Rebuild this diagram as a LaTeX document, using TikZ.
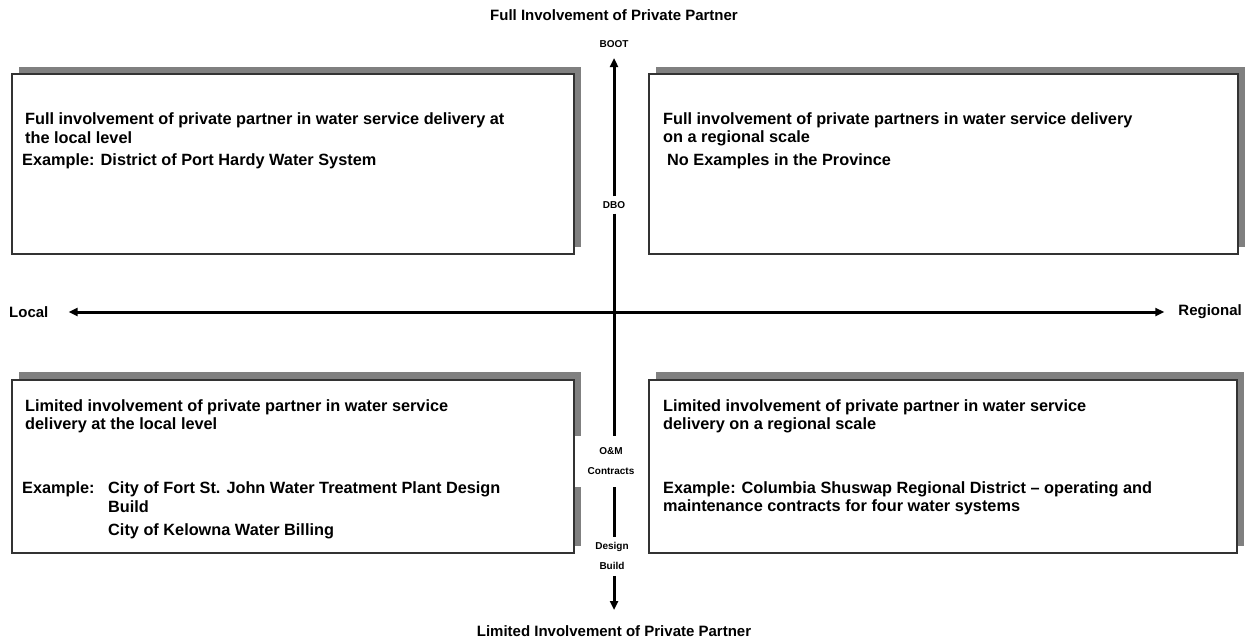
\documentclass[tikz,border=0pt]{standalone}
\usepackage{fontspec}
\setmainfont{Liberation Sans}
\usetikzlibrary{arrows.meta}
\begin{document}
\begin{tikzpicture}[x=1pt,y=-1pt,
  shadowbox/.style={fill=black!50,draw=none},
  panel/.style={draw=black!80,line width=1.3pt,fill=white},
  txt/.style={anchor=west,inner sep=0pt,font=\bfseries\fontsize{16.3}{18}\selectfont},
  small/.style={inner sep=0pt,font=\bfseries\fontsize{10}{20}\selectfont},
  ttl/.style={inner sep=0pt,font=\bfseries\fontsize{15}{18}\selectfont},
  axis/.style={line width=3pt,black},
  tip/.style={-{Triangle[width=8pt,length=9pt]}}
]
\useasboundingbox (0,0) rectangle (1247,641);
% shadows
\fill[shadowbox] (19,67) rectangle (581,247);
\fill[shadowbox] (656,67) rectangle (1245,247);
\fill[shadowbox] (19,372) rectangle (581,546);
\fill[shadowbox] (656,372) rectangle (1244,546);
% panels
\draw[panel] (12,74) rectangle (574,254);
\draw[panel] (649,74) rectangle (1238,254);
\draw[panel] (12,380) rectangle (574,553);
\draw[panel] (649,380) rectangle (1237,553);
% titles
\node[ttl] (top) at (614,15) {Full Involvement of Private Partner};
\node[ttl] (bot) at (614,631) {Limited Involvement of Private Partner};
\node[ttl,anchor=west] (local) at (9,312) {Local};
\node[ttl,anchor=east] (regional) at (1242,312) {Regional};
% axis labels
\node[small] (boot) at (614,44) {BOOT};
\node[small] (dbo) at (614,205) {DBO};
\node[small,fill=white,minimum width=72pt,minimum height=51pt,align=center] (om) at (611,461.5) {O\&M\\Contracts};
\node[small,align=center] (db) at (612,556) {Design\\Build};
\coordinate (endtop) at (614,58);
\coordinate (endbot) at (614,610);
% axes
\draw[axis,tip] ([yshift=5pt]dbo.north) -- (endtop);
\draw[axis] ([yshift=-5pt]dbo.south) -- ([xshift=3pt]om.north);
\draw[axis] ([xshift=3pt]om.south) -- ([xshift=2pt,yshift=5pt]db.north);
\draw[axis,tip] ([xshift=2pt,yshift=-6pt]db.south) -- (endbot);
\draw[axis,{Triangle[width=8pt,length=9pt]}-{Triangle[width=8pt,length=9pt]}] ([xshift=20pt]local.east) -- ([xshift=-14pt]regional.west);
% texts TL
\node[txt] (t1) at (25,120) {Full involvement of private partner in water service delivery at};
\node[txt] (t2) at (25,138) {the local level};
\node[txt] (t3) at (22,161) {Example: District of Port Hardy Water System};
% TR
\node[txt] (r1) at (663,120) {Full involvement of private partners in water service delivery};
\node[txt] (r2) at (663,138) {on a regional scale};
\node[txt] (r3) at (667,161) {No Examples in the Province};
% BL
\node[txt] (b1) at (25,407) {Limited involvement of private partner in water service};
\node[txt] (b2) at (25,425) {delivery at the local level};
\node[txt] (b3) at (22,489) {Example:};
\node[txt] (b4) at (108,489) {City of Fort St. John Water Treatment Plant Design};
\node[txt] (b5) at (108,507) {Build};
\node[txt] (b6) at (108,531) {City of Kelowna Water Billing};
% BR
\node[txt] (c1) at (663,407) {Limited involvement of private partner in water service};
\node[txt] (c2) at (663,425) {delivery on a regional scale};
\node[txt] (c3) at (663,489) {Example: Columbia Shuswap Regional District -- operating and};
\node[txt] (c4) at (663,507) {maintenance contracts for four water systems};
\end{tikzpicture}
\end{document}
